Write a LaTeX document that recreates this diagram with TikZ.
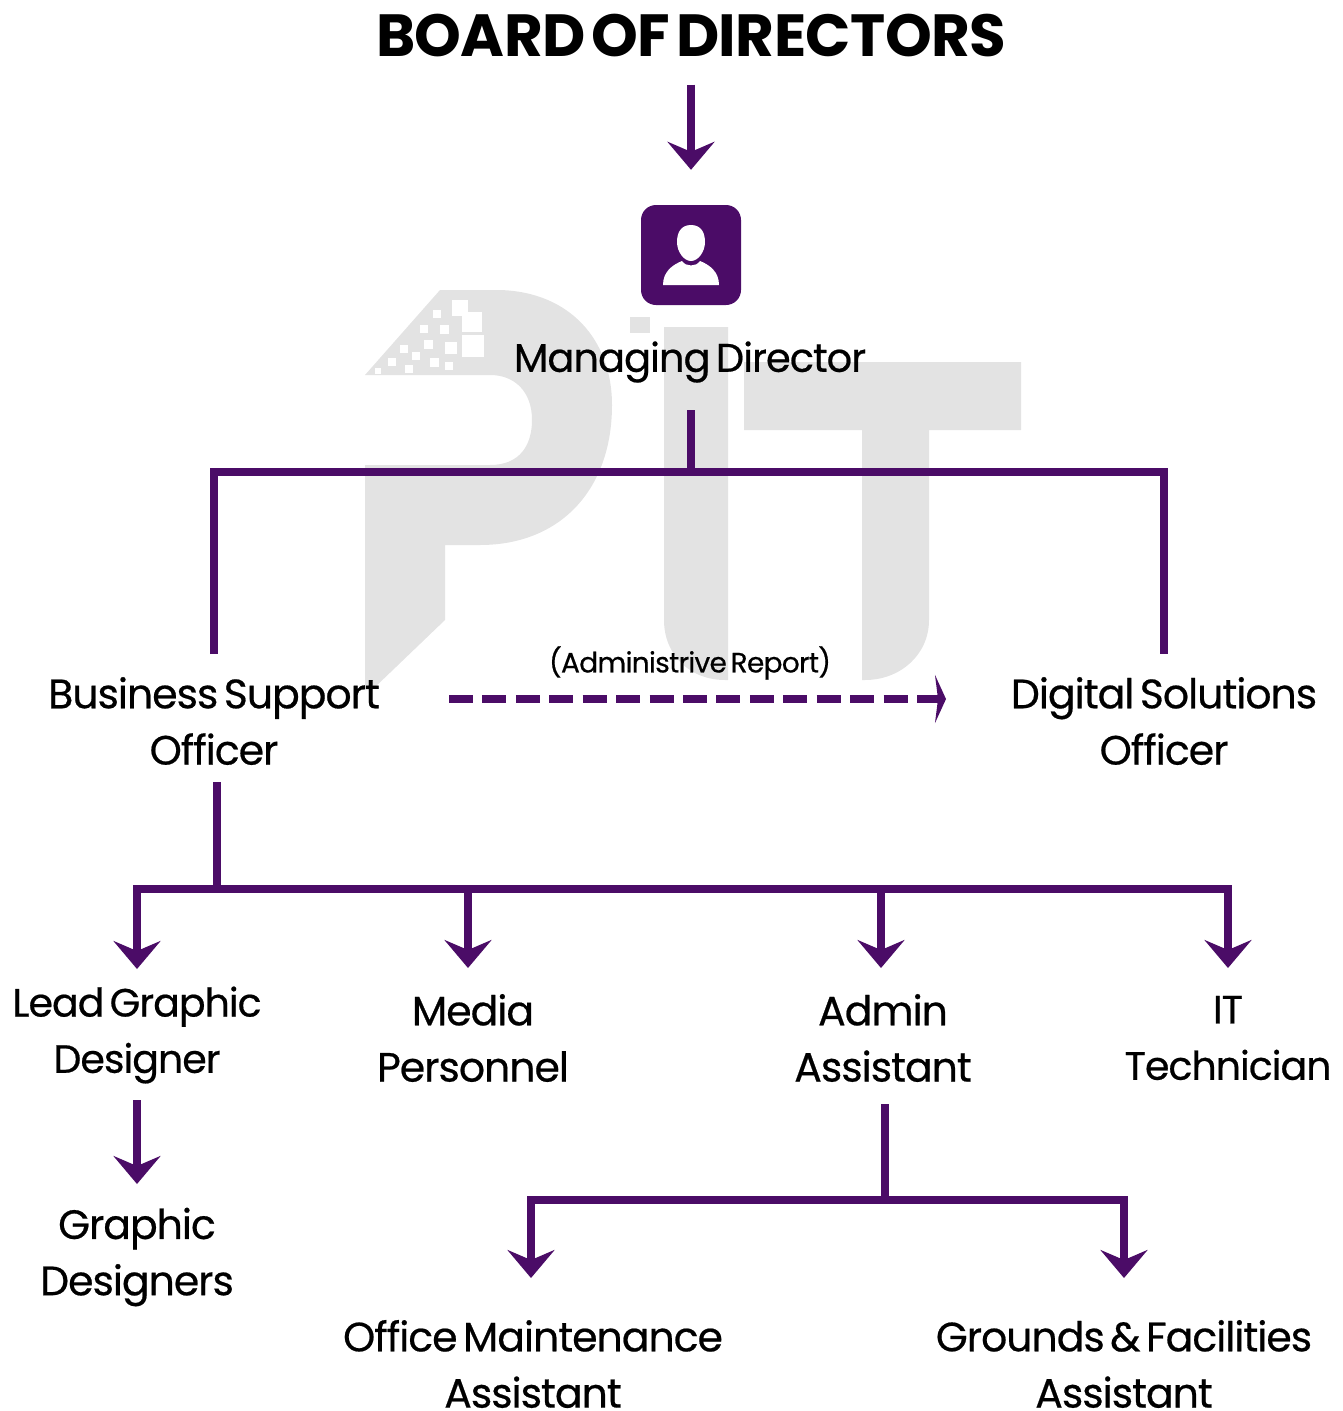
\documentclass[tikz,border=0pt]{standalone}
\usepackage{fontspec}
\setmainfont[LetterSpace=-2.5,WordSpace=0.55,RawFeature={embolden=0.5}]{Poppins}
\newfontfamily\boardfont[LetterSpace=-1,WordSpace=0.5]{Poppins}
\usetikzlibrary{arrows.meta,calc}
\definecolor{pitpurple}{HTML}{4B0C67}
\definecolor{wmgray}{HTML}{E3E3E3}
\tikzset{
  x=1pt,y=-1pt,
  role/.style={align=center,inner sep=0pt,font=\fontsize{41}{56.3}\selectfont,text=black,minimum height=90pt},
  rolesmall/.style={role,font=\fontsize{39.5}{56.3}\selectfont},
  link/.style={draw=pitpurple,line width=8pt,line cap=butt,line join=miter},
  arrowlink/.style={link,-{Stealth[length=28pt,width=47pt,inset=10pt]}},
  dashlink/.style={draw=pitpurple,line width=8pt,dash pattern=on 24pt off 9.43pt,-{Stealth[length=11pt,width=48pt,inset=3pt]}},
  wm/.style={fill=wmgray,draw=none},
  wmhole/.style={fill=white,draw=none}
}
\begin{document}
\begin{tikzpicture}
\useasboundingbox (0,0) rectangle (1343,1411);
% watermark
\fill[wm] (365,375) -- (440,290) -- (500,290) .. controls (570,292) and (612,340) .. (612,405)
  .. controls (612,490) and (560,545) .. (480,545) -- (445,545) -- (445,620) -- (372,690) -- (365,690) -- (365,465)
  -- (490,465) .. controls (520,465) and (532,445) .. (532,420) .. controls (532,392) and (515,375) .. (490,375) -- cycle;
\foreach \px/\py/\ps in {452/300/16,462/312/20,433/310/8,420/325/8,440/325/9,424/340/9,445/342/12,400/345/8,412/352/8,462/335/22,388/358/8,405/365/8,430/358/9,445/362/8,375/368/6}
  \fill[wmhole] (\px,\py) rectangle ++(\ps,\ps);
\fill[wm] (630,317) rectangle (650,333);
\fill[wm] (664,327) -- (728,327) -- (728,680) -- (725,680) .. controls (690,680) and (664,655) .. (664,620) -- cycle;
\fill[wm] (744,362) -- (1021,362) -- (1021,430) -- (929,430) -- (929,620) .. controls (929,655) and (900,680) .. (865,680) -- (862,680) -- (862,430) -- (744,430) -- cycle;

% nodes
\node[inner sep=0pt,font=\boardfont\bfseries\fontsize{59.5}{60}\selectfont] (board) at (691,36) {BOARD OF DIRECTORS};
\node[fill=pitpurple,rounded corners=15pt,minimum size=100pt,inner sep=0pt] (icon) at (691,255) {};
\fill[white] (691,225) .. controls (680,225) and (677,234) .. (677,242) .. controls (677,252) and (684,261) .. (691,261) .. controls (698,261) and (705,252) .. (705,242) .. controls (705,234) and (702,225) .. (691,225) -- cycle;
\fill[white] (663,285) .. controls (663,272) and (672,265) .. (682,261) .. controls (686,267) and (696,267) .. (700,261) .. controls (710,265) and (719,272) .. (719,285) -- cycle;
\node[inner sep=0pt,font=\fontsize{40}{46}\selectfont] (md) at (690,362) {Managing Director};

\node[role] (bso) at (214,721) {Business Support\\Officer};
\node[role] (dso) at (1164,721) {Digital Solutions\\Officer};
\node[inner sep=0pt,font=\fontsize{28}{34}\selectfont] (report) at (690,663) {(Administrive Report)};
\node[rolesmall] (lead) at (137,1035) {Lead Graphic\\Designer};
\node[role] (media) at (473,1038) {Media\\Personnel};
\node[role] (admin) at (883,1038) {Admin\\Assistant};
\node[rolesmall] (it) at (1228,1038) {IT\\Technician};
\node[role] (gd) at (137,1257) {Graphic\\Designers};
\node[role] (oma) at (533,1364) {Office Maintenance\\Assistant};
\node[role] (gfa) at (1124,1364) {Grounds \& Facilities\\Assistant};

% junction coordinates
\coordinate (topj) at (691,472);
\coordinate (topl) at (214,472);
\coordinate (topr) at (1164,472);
\coordinate (bsoj) at (217,889);
\coordinate (busl) at (137,889);
\coordinate (busm) at (468,889);
\coordinate (busa) at (881,889);
\coordinate (busr) at (1228,889);
\coordinate (admj) at (885,1200);
\coordinate (admbl) at (531,1200);
\coordinate (admbr) at (1124,1200);
\coordinate (mdout) at (691,410);
\coordinate (bsotop) at (214,654);
\coordinate (dsotop) at (1164,654);
\coordinate (bsoout) at (217,782);
\coordinate (admout) at (885,1104);
\coordinate (leadout) at (137,1100);
\coordinate (dashs) at (449,699);
\coordinate (dashe) at (946,699);

% connectors
\draw[arrowlink,shorten <=27pt,shorten >=35pt] (board.south) -- (icon.north);
\draw[link] (mdout) -- (topj);
\draw[link] (bsotop) -- (topl) -- (topr) -- (dsotop);
\draw[dashlink] (dashs) -- (dashe);
\draw[link] (bsoout) -- (bsoj);
\draw[link] (busl) -- (busr);
\draw[arrowlink] (busl) ++(0,-4) -- (137,969);
\draw[arrowlink] (busm) -- (468,968);
\draw[arrowlink] (busa) -- (881,968);
\draw[arrowlink] (busr) ++(0,-4) -- (1228,968);
\draw[arrowlink] (leadout) -- (137,1184);
\draw[link] (admout) -- (admj);
\draw[link] (admbl) -- (admbr);
\draw[arrowlink] (admbl) ++(0,-4) -- (531,1278);
\draw[arrowlink] (admbr) ++(0,-4) -- (1124,1278);
\end{tikzpicture}
\end{document}
